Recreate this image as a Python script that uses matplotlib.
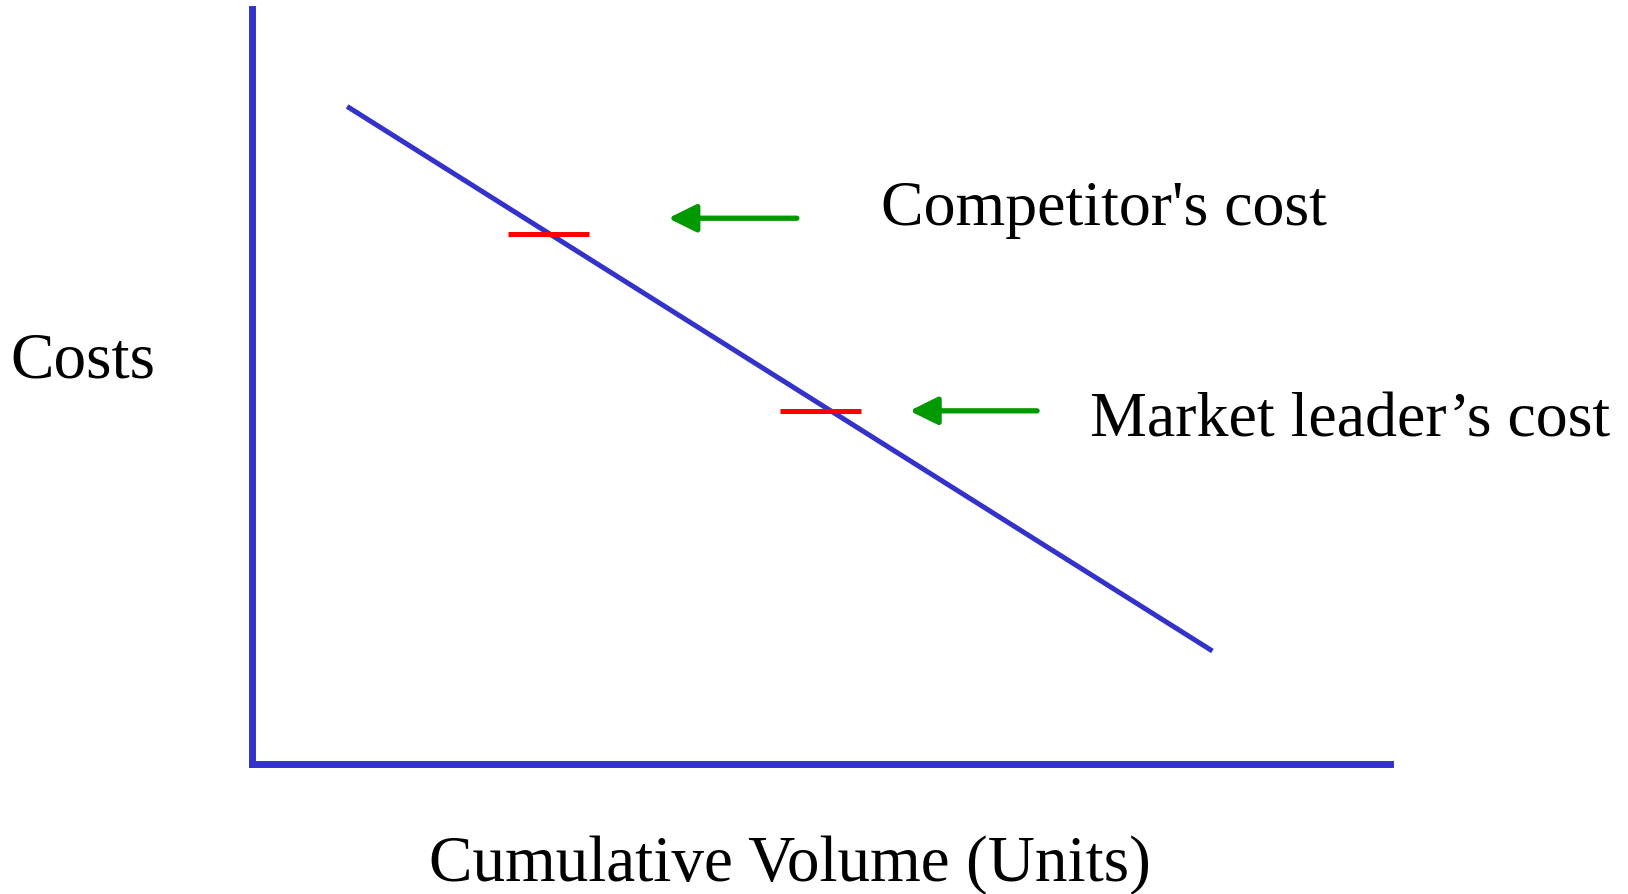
import matplotlib.pyplot as plt

# experience curve: cumulative volume vs unit cost (arbitrary units)
volume = [8.4, 84.4]
cost = [87.1, 15.0]

# cost levels marked on the curve
marks_vol = [26.1, 50.0]
marks_cost = [70.2, 46.8]
mark_half = 3.55
labels = ["Competitor's cost", "Market leader\u2019s cost"]

# arrows pointing back at the marks
arrow_tip = [36.6, 57.8]
arrow_tail = [47.9, 69.0]
arrow_y = [72.3, 46.8]

blue = '#3333cc'
red = '#ff0000'
green = '#009900'

plt.rcParams['font.family'] = ['Liberation Serif', 'DejaVu Serif']

W, H = 1628, 894
fig = plt.figure(figsize=(W / 100, H / 100), dpi=100)
ax = fig.add_axes([251.5 / W, (H - 764.3) / H, (1390 - 251.5) / W, (764.3 - 9) / H])
ax.set_xlim(0, 100)
ax.set_ylim(0, 100)
ax.set_xticks([])
ax.set_yticks([])
for s in ['top', 'right']:
    ax.spines[s].set_visible(False)
for s in ['left', 'bottom']:
    ax.spines[s].set_color(blue)
    ax.spines[s].set_linewidth(5.0)

ax.plot(volume, cost, color=blue, lw=3.6, solid_capstyle='butt')

for v, c in zip(marks_vol, marks_cost):
    ax.plot([v - mark_half, v + mark_half], [c, c], color=red, lw=3.6,
            solid_capstyle='butt')

for tip, tail, y in zip(arrow_tip, arrow_tail, arrow_y):
    ax.annotate('', xy=(tip, y), xytext=(tail, y),
                arrowprops=dict(arrowstyle='-|>,head_length=0.85,head_width=0.42',
                                mutation_scale=20, color=green, lw=3.8,
                                shrinkA=0, shrinkB=0))

fs = 46
fig.text(881 / W, 1 - 225 / H, labels[0], fontsize=fs, va='baseline', ha='left')
fig.text(1090 / W, 1 - 436 / H, labels[1], fontsize=fs, va='baseline', ha='left')
fig.text(10 / W, 1 - 378 / H, 'Costs', fontsize=47, va='baseline', ha='left')
fig.text(429 / W, 1 - 881 / H, 'Cumulative Volume (Units)', fontsize=47,
         va='baseline', ha='left')

fig.savefig('out.png', dpi=100)
